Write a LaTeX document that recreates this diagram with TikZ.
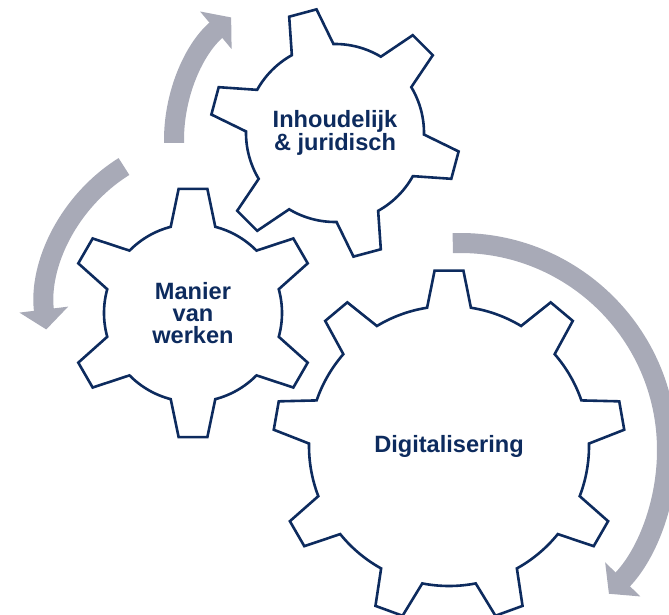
\documentclass[tikz,border=0pt]{standalone}
\usepackage{fontspec}
\setmainfont{Liberation Sans}
\usetikzlibrary{arrows.meta}
\definecolor{navy}{HTML}{0D2B5E}
\definecolor{arrowgrey}{HTML}{A8AAB7}
% #1 cx, #2 cy, #3 teeth, #4 first tooth angle, #5 outer r, #6 root r, #7 root half-angle, #8 tip half-angle
\newcommand{\drawGear}[8]{%
  \begin{scope}[shift={(#1,#2)}]
    \pgfmathsetmacro\gearstep{360/#3}
    \pgfmathtruncatemacro\gearlast{#3-1}
    \draw[gearline] ({#4-#7}:#6)
      \foreach \k in {0,...,\gearlast}{
        -- ({#4+\k*\gearstep-#8}:#5) -- ({#4+\k*\gearstep+#8}:#5)
        -- ({#4+\k*\gearstep+#7}:#6)
        arc[start angle={#4+\k*\gearstep+#7}, end angle={#4+(\k+1)*\gearstep-#7}, radius=#6]
      } -- cycle;
  \end{scope}%
}
\begin{document}
\begin{tikzpicture}[x=1pt,y=1pt,
  gearline/.style={draw=navy, line width=2.6pt, fill=white, line join=miter},
  band/.style={draw=arrowgrey, line width=20pt, -{Triangle[width=48pt,length=20pt]}},
  gearlabel/.style={text=navy, font=\bfseries\fontsize{23.6}{22.4}\selectfont, align=center}]
\useasboundingbox (0,0) rectangle (669,615);
\clip (0,0) rectangle (669,615);
% curved arrows
\draw[band] (334,475) ++(181:160) arc[start angle=181, end angle=130, radius=160];
\draw[band] (213,306) ++(122:168) arc[start angle=122, end angle=187, radius=168];
\draw[band] (460,165) ++(92:207) arc[start angle=92, end angle=-44, radius=207];
% gears
\drawGear{193}{302}{6}{30}{125}{89}{14.5}{6.6}
\drawGear{335}{482}{6}{45}{125}{89}{14}{6.5}
\drawGear{449}{169}{9}{90}{176}{140}{9}{4.7}
% labels
\node[gearlabel] (manier) at (193,302) {Manier\\van\\werken};
\node[gearlabel] (inhoud) at (335,482) {Inhoudelijk\\\& juridisch};
\node[gearlabel] (digi) at (449,169) {Digitalisering};
\end{tikzpicture}
\end{document}
